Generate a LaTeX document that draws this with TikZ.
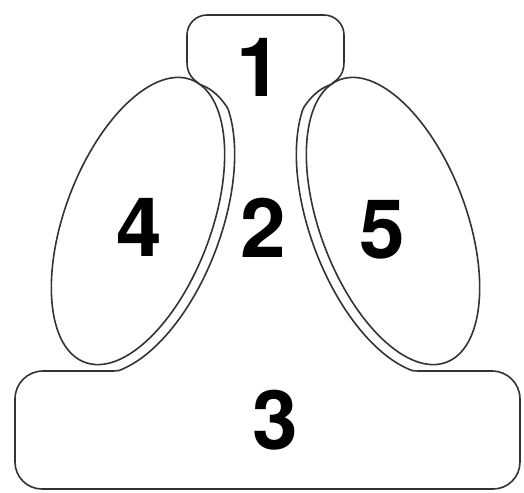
\documentclass[tikz,border=0pt]{standalone}
\usepackage{fontspec}
\setmainfont{TeX Gyre Heros}
\usetikzlibrary{shapes.geometric}
\tikzset{
  outline/.style={draw=black!80, line width=1.6pt, line join=round},
  lobe/.style={draw=black!80, line width=1.6pt, ellipse, inner sep=0pt,
               minimum width=146pt, minimum height=302pt},
  digit/.style={inner sep=0pt, font=\fontsize{82}{82}\selectfont\bfseries}
}
\begin{document}
\begin{tikzpicture}[x=1pt, y=-1pt,
  declare function={
    EE(\t)=sqrt(228.01*sin(\t)^2+53.29*cos(\t)^2);
    dd(\t)=10*min(1,max(0,(\t-8)/22));
    UU(\t)=151*cos(\t)+dd(\t)*7.3*cos(\t)/EE(\t);
    VV(\t)=73*sin(\t)+dd(\t)*15.1*sin(\t)/EE(\t);
    nx(\t)=138+0.3535*UU(\t)+0.9354*VV(\t);
    ny(\t)=221-0.9354*UU(\t)+0.3535*VV(\t);
  }]
\useasboundingbox (0,0) rectangle (524,492);
% outer outline: bottom box 3, right neck, box 1, left neck
\draw[outline]
  (107,371) -- (43,371) .. controls (27.5,371) and (15,383.5) .. (15,399)
  -- (15,462) .. controls (15,477) and (27,489) .. (42,489)
  -- (493,489) .. controls (508,489) and (520,477) .. (520,462)
  -- (520,399) .. controls (520,383.5) and (507.5,371) .. (492,371)
  -- (424,371) .. controls (418,371) and (414,371) .. ({531-nx(157)},{ny(157)})
  -- plot[domain=8:157, samples=80, smooth, variable=\s]
     ({531-nx(165-\s)},{ny(165-\s)})
  .. controls (338.6,78.8) and (344,74) .. (344,62)
  -- (344,35) .. controls (344,24) and (335,15) .. (324,15)
  -- (207,15) .. controls (196,15) and (187,24) .. (187,35)
  -- (187,62) .. controls (187,74) and (192.4,78.8) .. ({nx(8)},{ny(8)})
  -- plot[domain=8:157, samples=80, smooth, variable=\t]
     ({nx(\t)},{ny(\t)})
  .. controls (113,371) and (117,371) .. (107,371) -- cycle;
% lobes 4 and 5
\node[lobe, rotate=-20.7] (e4) at (138,221) {};
\node[lobe, rotate=20.7] (e5) at (393,221) {};
% labels
\node[digit] (l1) at (259,67) {1};
\node[digit] (l2) at (263,228) {2};
\node[digit] (l3) at (275,420) {3};
\node[digit] (l4) at (139,227) {4};
\node[digit] (l5) at (382,230) {5};
\end{tikzpicture}
\end{document}
